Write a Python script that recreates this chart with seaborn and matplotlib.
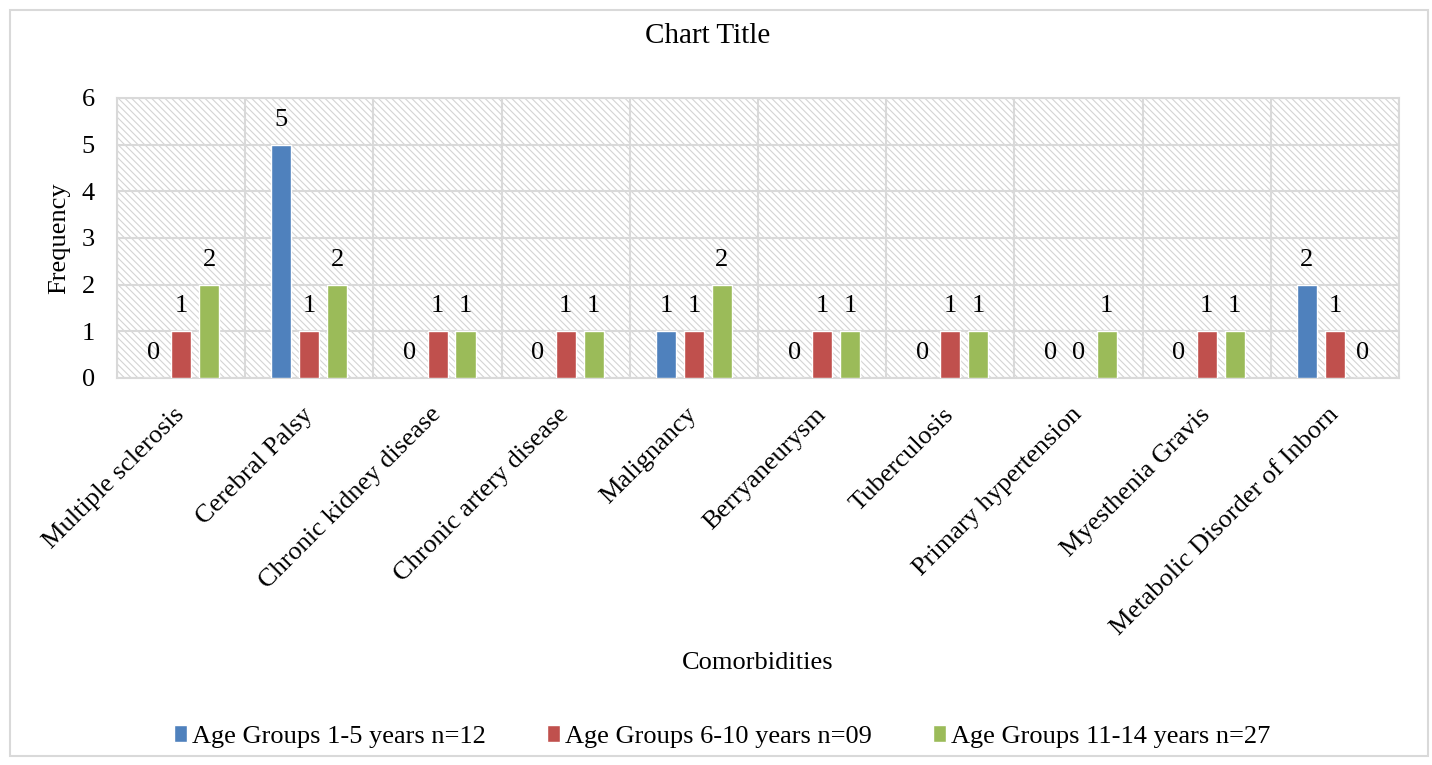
import numpy as np
import pandas as pd
import seaborn as sns
import matplotlib.pyplot as plt
from matplotlib.patches import Rectangle

categories = [
    "Multiple sclerosis", "Cerebral Palsy", "Chronic kidney disease",
    "Chronic artery disease", "Malignancy", "Berryaneurysm", "Tuberculosis",
    "Primary hypertension", "Myesthenia Gravis", "Metabolic Disorder of Inborn",
]
groups = [
    "Age Groups 1-5 years n=12",
    "Age Groups 6-10 years n=09",
    "Age Groups 11-14 years n=27",
]
age_1_5 = [0, 5, 0, 0, 1, 0, 0, 0, 0, 2]
age_6_10 = [1, 1, 1, 1, 1, 1, 1, 0, 1, 1]
age_11_14 = [2, 2, 1, 1, 2, 1, 1, 1, 1, 0]
colors = ["#4F81BD", "#C0504D", "#9BBB59"]

df = pd.DataFrame({
    "Comorbidities": categories * 3,
    "group": np.repeat(groups, len(categories)),
    "Frequency": age_1_5 + age_6_10 + age_11_14,
})

sns.set_style("white", {"text.color": "black", "axes.labelcolor": "black",
                        "xtick.color": "black", "ytick.color": "black"})
plt.rcParams["font.family"] = ["Liberation Serif", "DejaVu Serif"]
plt.rcParams["hatch.linewidth"] = 0.8
fs = 19

fig = plt.figure(figsize=(14.32, 7.65), dpi=100)
ax = fig.add_axes([0.0817, 0.5059, 0.8953, 0.366])

# hatched plot area
ax.patch.set_facecolor("white")
ax.patch.set_edgecolor("#d4d4d4")
ax.patch.set_hatch("\\\\\\\\\\")

sns.barplot(
    data=df, x="Comorbidities", y="Frequency", hue="group",
    palette=colors, width=0.655, gap=0.285, ax=ax, zorder=3,
    saturation=1,
)

ax.set_ylim(0, 6)
ax.set_xlim(-0.5, len(categories) - 0.5)
ax.set_yticks(range(7))
ax.set_xticks(np.arange(-0.5, len(categories)), minor=True)
ax.grid(False)
ax.yaxis.grid(True, color="#d9d9d9", linewidth=1.5, zorder=1)
ax.xaxis.grid(True, which="minor", color="#d9d9d9", linewidth=1.5, zorder=1)
ax.set_axisbelow(True)
for s in ax.spines.values():
    s.set_color("#d9d9d9")
    s.set_linewidth(1.5)
ax.tick_params(axis="both", which="both", length=0, labelsize=fs)
ax.tick_params(axis="y", pad=16)
ax.tick_params(axis="x", pad=24)
plt.setp(ax.get_xticklabels(), rotation=45, ha="right", va="center",
         rotation_mode="anchor")

for c in ax.containers:
    ax.bar_label(c, fmt="%d", padding=10, fontsize=fs, color="black")

ax.set_xlabel("Comorbidities", fontsize=fs, labelpad=0)
ax.xaxis.set_label_coords(0.5, -0.98)
ax.set_ylabel("Frequency", fontsize=fs, labelpad=8)
fig.text(0.494, 0.953, "Chart Title", fontsize=21, ha="center", va="center")

ax.legend(loc="upper center", bbox_to_anchor=(0.472, -1.155), ncol=3,
          frameon=False, fontsize=fs, handlelength=0.5, handleheight=0.6,
          handletextpad=0.2, columnspacing=2.3)

fig.patches.append(Rectangle((0.007, 0.012), 0.99, 0.975, transform=fig.transFigure,
                             fill=False, edgecolor="#d9d9d9", linewidth=1.5))

fig.savefig("out.png", dpi=100)
